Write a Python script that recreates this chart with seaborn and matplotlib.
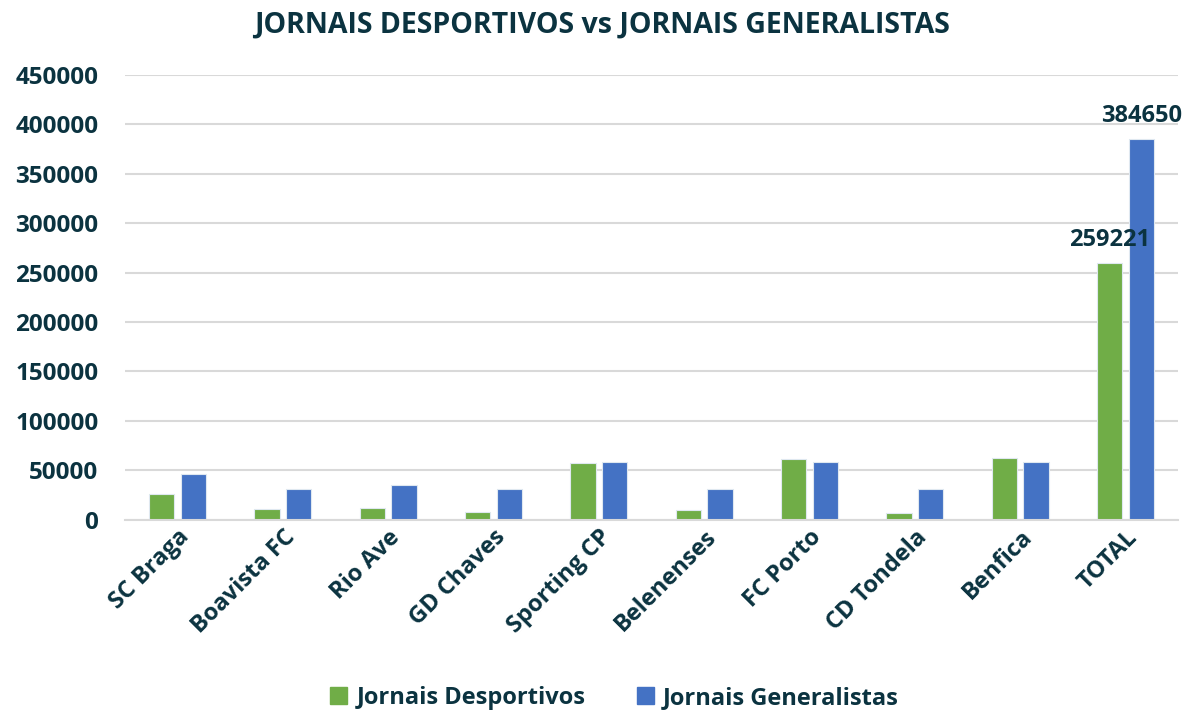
import pandas as pd
import numpy as np
import matplotlib.pyplot as plt
import seaborn as sns

# values
clubes = ['SC Braga', 'Boavista FC', 'Rio Ave', 'GD Chaves', 'Sporting CP',
          'Belenenses', 'FC Porto', 'CD Tondela', 'Benfica', 'TOTAL']
desportivos = [26000, 10800, 12100, 7800, 57300, 10100, 61700, 7100, 62000, 259221]
generalistas = [46500, 31200, 35000, 31200, 58800, 31200, 58800, 31200, 58800, 384650]
series = ['Jornais Desportivos', 'Jornais Generalistas']
cores = ['#70AD47', '#4472C4']
texto = '#0B3340'

df = pd.DataFrame({'clube': clubes * 2,
                   'serie': [series[0]] * len(clubes) + [series[1]] * len(clubes),
                   'valor': desportivos + generalistas})

sns.set_theme(style='white')
plt.rcParams['font.family'] = ['Open Sans', 'DejaVu Sans']
plt.rcParams['font.weight'] = 'bold'

fig = plt.figure(figsize=(11.89, 7.12), dpi=100)
ax = fig.add_axes([0.105, 0.270, 0.886, 0.625])

sns.barplot(data=df, x='clube', y='valor', hue='serie', palette=cores,
            width=0.6, gap=0.2, ax=ax, edgecolor='#dfe8f0', linewidth=0.8,
            saturation=1, legend=False)

ax.set_ylim(0, 450000)
ax.set_xlim(-0.5, len(clubes) - 0.5)
ax.set_yticks(np.arange(0, 450001, 50000))
ax.yaxis.grid(True, color='#d9d9d9', linewidth=1.5)
ax.set_axisbelow(True)
for s in ['top', 'right', 'left']:
    ax.spines[s].set_visible(False)
ax.spines['bottom'].set_color('#d9d9d9')
ax.spines['bottom'].set_linewidth(1.5)
ax.set_xlabel('')
ax.set_ylabel('')
ax.tick_params(axis='y', length=0, pad=19, labelsize=17.5, labelcolor=texto)
ax.tick_params(axis='x', length=0, pad=4, labelsize=17, labelcolor=texto)
plt.setp(ax.get_xticklabels(), rotation=45, ha='right', rotation_mode='anchor', fontweight='bold')
plt.setp(ax.get_yticklabels(), fontweight='bold')

# labels on the TOTAL bars
for cont in ax.containers:
    ax.bar_label(cont, labels=[''] * (len(clubes) - 1) + ['%d' % cont.datavalues[-1]],
                 padding=8, fontsize=17, fontweight='bold', color=texto)

handles = [plt.Rectangle((0, 0), 1, 1, color=c) for c in cores]
fig.legend(handles, series, loc='center', bbox_to_anchor=(0.517, 0.02), ncol=2, frameon=False,
           handlelength=0.7, handleheight=0.7, columnspacing=2.2,
           handletextpad=0.4, labelcolor=texto, prop={'weight': 'bold', 'size': 17})

fig.text(0.506, 0.965, 'JORNAIS DESPORTIVOS vs JORNAIS GENERALISTAS', ha='center', va='center',
         fontsize=20.5, fontweight='bold', color=texto)

fig.savefig('out.png', dpi=100)
